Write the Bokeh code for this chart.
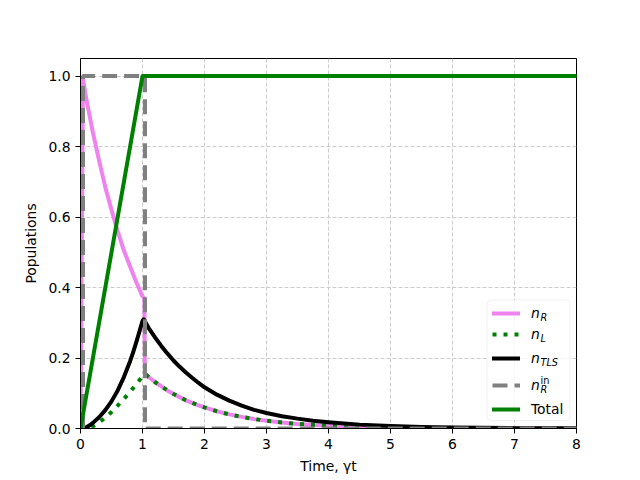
from bokeh.plotting import figure
from bokeh.models import Range1d, FixedTicker, Legend, LegendItem, Label, BoxAnnotation, NumeralTickFormatter
from bokeh.embed import file_html
from bokeh.resources import INLINE

# ---------------- data ----------------
t_nR = [0.0, 0.04, 0.1, 0.2, 0.3, 0.4, 0.5, 0.6, 0.7, 0.8, 0.9, 1.0, 1.03, 1.04,
        1.1, 1.2, 1.3, 1.4, 1.5, 1.6, 1.7, 1.8, 1.9, 2.0, 2.2, 2.4, 2.6, 2.8, 3.0,
        3.25, 3.5, 3.75, 4.0, 4.5, 5.0, 6.0, 7.0, 8.0]
n_R = [0.0, 0.99, 0.93, 0.84, 0.76, 0.685, 0.62, 0.56, 0.505, 0.46, 0.415, 0.375, 0.37, 0.155,
       0.146, 0.132, 0.12, 0.108, 0.098, 0.089, 0.08, 0.073, 0.066, 0.06, 0.049, 0.04, 0.033, 0.027, 0.022,
       0.017, 0.013, 0.01, 0.008, 0.005, 0.003, 0.001, 0.0004, 0.0001]

t_nL = [0.0, 0.05, 0.1, 0.15, 0.2, 0.3, 0.4, 0.5, 0.6, 0.7, 0.8, 0.9, 1.0, 1.04,
        1.1, 1.2, 1.3, 1.4, 1.5, 1.6, 1.7, 1.8, 1.9, 2.0, 2.2, 2.4, 2.6, 2.8, 3.0,
        3.25, 3.5, 3.75, 4.0, 4.5, 5.0, 6.0, 7.0, 8.0]
n_L = [0.0, 0.0, 0.001, 0.003, 0.006, 0.017, 0.031, 0.047, 0.065, 0.084, 0.104, 0.126, 0.148, 0.155,
       0.146, 0.132, 0.12, 0.108, 0.098, 0.089, 0.08, 0.073, 0.066, 0.06, 0.049, 0.04, 0.033, 0.027, 0.022,
       0.017, 0.013, 0.01, 0.008, 0.005, 0.003, 0.001, 0.0004, 0.0001]

t_TLS = [0.0, 0.04, 0.1, 0.15, 0.2, 0.3, 0.4, 0.5, 0.6, 0.7, 0.8, 0.85, 0.9, 0.95, 1.0, 1.02,
         1.1, 1.2, 1.3, 1.4, 1.5, 1.6, 1.7, 1.8, 1.9, 2.0, 2.2, 2.4, 2.6, 2.8, 3.0,
         3.25, 3.5, 3.75, 4.0, 4.5, 5.0, 5.5, 6.0, 7.0, 8.0]
n_TLS = [0.0, 0.0, 0.004, 0.009, 0.016, 0.032, 0.052, 0.077, 0.108, 0.146, 0.191, 0.217, 0.245, 0.275, 0.305, 0.31,
         0.285, 0.259, 0.235, 0.213, 0.193, 0.175, 0.159, 0.144, 0.13, 0.117, 0.096, 0.079, 0.065, 0.053, 0.044,
         0.035, 0.028, 0.022, 0.018, 0.011, 0.007, 0.0045, 0.0028, 0.001, 0.0004]

t_in = [0.0, 0.04, 0.04, 1.04, 1.04, 8.0]
n_R_in = [0.0, 0.0, 1.0, 1.0, 0.0, 0.0]

t_total = [0.0, 1.0, 8.0]
total = [0.0, 1.0, 1.0]

x_ticks = [0, 1, 2, 3, 4, 5, 6, 7, 8]
x_tick_labels = ["0", "1", "2", "3", "4", "5", "6", "7", "8"]
y_ticks = [0.0, 0.2, 0.4, 0.6, 0.8, 1.0]
y_tick_labels = ["0.0", "0.2", "0.4", "0.6", "0.8", "1.0"]

x_label = "Time, γt"
y_label = "Populations"

# ---------------- layout constants ----------------
FL, FR, FT, FB = 80, 576, 58, 428
FONT = "DejaVu Sans"
FS = "13.9px"

p = figure(width=640, height=480, output_backend="svg", toolbar_location=None,
           x_range=Range1d(0, 8), y_range=Range1d(0, 1.05),
           min_border_left=FL, min_border_right=640 - FR,
           min_border_top=FT, min_border_bottom=480 - FB)
p.background_fill_color = "white"
p.border_fill_color = "white"
p.outline_line_color = "black"
p.outline_line_width = 1

p.xaxis.ticker = FixedTicker(ticks=x_ticks)
p.yaxis.ticker = FixedTicker(ticks=y_ticks)
p.yaxis.formatter = NumeralTickFormatter(format="0.0")
p.xaxis.major_label_overrides = dict(zip(x_ticks, x_tick_labels))
p.yaxis.major_label_overrides = dict(zip(y_ticks, y_tick_labels))
p.xaxis.axis_label = x_label
p.yaxis.axis_label = y_label
for ax in (p.xaxis[0], p.yaxis[0]):
    ax.major_tick_out = 5
    ax.major_tick_in = 0
    ax.minor_tick_line_color = None
    ax.major_tick_line_color = "black"
    ax.axis_line_color = "black"
    ax.major_label_text_font = FONT
    ax.major_label_text_font_size = FS
    ax.major_label_text_color = "black"
    ax.major_label_standoff = 5
    ax.axis_label_text_font = FONT
    ax.axis_label_text_font_size = FS
    ax.axis_label_text_font_style = "normal"
    ax.axis_label_text_color = "black"
    ax.axis_label_standoff = 6

for g in (p.xgrid[0], p.ygrid[0]):
    g.grid_line_color = "#cccccc"
    g.grid_line_dash = "4 2"
    g.grid_line_width = 1

LW = 4
r_R = p.line(t_nR, n_R, line_color="violet", line_width=LW, line_cap="square", line_join="round")
r_L = p.line(t_nL, n_L, line_color="green", line_width=LW, line_dash="4 7", line_cap="butt")
r_TLS = p.line(t_TLS, n_TLS, line_color="black", line_width=LW, line_cap="square", line_join="round")
r_in = p.line(t_in, n_R_in, line_color="gray", line_width=LW, line_dash="15 7", line_cap="butt")
r_tot = p.line(t_total, total, line_color="green", line_width=LW, line_cap="square", line_join="round")

# ---------------- legend ----------------
frame_box = BoxAnnotation(left=486.5 - FL, right=569.5 - FL, top=FB - 299.5, bottom=FB - 420,
                          left_units="screen", right_units="screen",
                          top_units="screen", bottom_units="screen",
                          fill_color="white", fill_alpha=0.8,
                          line_color="#cccccc", line_width=1, border_radius=4)
p.add_layout(frame_box)

LAB_H = 22   # label box height
GLY_H = 18   # glyph box height (label centre sits 2 px below the line)
GX = 492     # glyph start (pixels)


def add_item(renderer, text, yc, style):
    top = yc - GLY_H / 2
    leg = Legend(items=[LegendItem(label=text, renderers=[renderer])],
                 location=(GX - FL, FB - top - LAB_H),
                 padding=0, margin=0, spacing=0,
                 glyph_width=28, glyph_height=GLY_H, label_height=LAB_H,
                 label_standoff=11,
                 label_text_font=FONT, label_text_font_size=FS,
                 label_text_font_style=style, label_text_color="black",
                 background_fill_alpha=0, border_line_color=None)
    p.add_layout(leg)


def add_script(text, x_px, base_px, style="italic"):
    p.add_layout(Label(x=x_px - FL, y=FB - base_px, x_units="screen", y_units="screen",
                       text=text, text_font=FONT, text_font_size="9.7px",
                       text_font_style=style, text_color="black",
                       text_baseline="alphabetic", text_align="left"))


items = [
    (r_R, "n", 311, "italic"),
    (r_L, "n", 332, "italic"),
    (r_TLS, "n", 356, "italic"),
    (r_in, "n", 383, "italic"),
    (r_tot, "Total", 407, "normal"),
]
for r, txt, yc, st in items:
    add_item(r, txt, yc, st)

SUBX = 540
add_script("R", SUBX, 311 + 6)
add_script("L", SUBX, 332 + 6)
add_script("TLS", SUBX, 356 + 6)
add_script("R", SUBX, 383 + 6)
add_script("in", SUBX, 383 - 3, style="normal")

open("out.html", "w").write(file_html(p, INLINE))
